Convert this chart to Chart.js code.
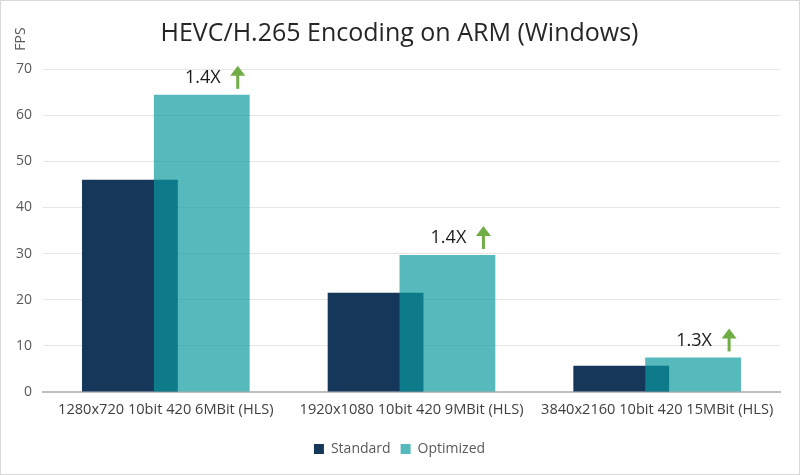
<!DOCTYPE html>
<html>
<head>
<meta charset="utf-8">
<script src="https://cdn.jsdelivr.net/npm/chart.js@4.4.1/dist/chart.umd.min.js"></script>
<style>
  html, body { margin: 0; padding: 0; background: #fff; }
  #wrap { position: relative; width: 800px; height: 475px; box-sizing: border-box; border: 1px solid #d9d9d9; }
</style>
</head>
<body>
<div id="wrap"><canvas id="chart" width="798" height="473"></canvas></div>
<script>
// ── data ──────────────────────────────────────────────────────────────────
const categories = [
  '1280x720 10bit 420 6MBit (HLS)',
  '1920x1080 10bit 420 9MBit (HLS)',
  '3840x2160 10bit 420 15MBit (HLS)',
];
const standardFps  = [46, 21.5, 5.7];
const optimizedFps = [64.4, 29.7, 7.5];
const speedups     = ['1.4X', '1.4X', '1.3X'];
const yTicks       = [0, 10, 20, 30, 40, 50, 60, 70];

const FONT = "'Open Sans', 'Noto Sans', sans-serif";
const C_STD = '#14375a';
const C_OPT = 'rgba(10,153,158,0.69)';
const C_ARROW = '#70ad47';

// Optimized sits in front of Standard (Chart.js draws first dataset on top,
// so skip it in the normal pass and draw it afterwards).
const frontPlugin = {
  id: 'optimizedInFront',
  beforeDatasetDraw(chart, args) {
    if (args.index === 1) return false;
  },
  afterDatasetsDraw(chart) {
    const meta = chart.getDatasetMeta(1);
    if (meta.visible) meta.controller.draw();
  },
};

// speedup labels + green arrows above the optimized bars, and the FPS label
const notesPlugin = {
  id: 'notes',
  afterDraw(chart) {
    const { ctx } = chart;
    const meta = chart.getDatasetMeta(1);
    ctx.save();
    meta.data.forEach((bar, i) => {
      const ty = bar.y - 17;
      ctx.fillStyle = '#1a1a1a';
      ctx.font = `18px ${FONT}`;
      ctx.textAlign = 'center';
      ctx.textBaseline = 'middle';
      ctx.fillText(speedups[i], bar.x + 1, ty);

      const ax = bar.x + 36;
      const top = ty - 12, bottom = ty + 11;
      ctx.fillStyle = C_ARROW;
      ctx.fillRect(ax - 1.5, top + 8, 3, bottom - top - 8);
      ctx.beginPath();
      ctx.moveTo(ax, top);
      ctx.lineTo(ax + 7.5, top + 10);
      ctx.lineTo(ax - 7.5, top + 10);
      ctx.closePath();
      ctx.fill();
    });

    ctx.translate(20, 38);
    ctx.rotate(-Math.PI / 2);
    ctx.fillStyle = '#595959';
    ctx.font = `14px ${FONT}`;
    ctx.textAlign = 'center';
    ctx.textBaseline = 'middle';
    ctx.fillText('FPS', 0, 0);
    ctx.restore();
  },
};

new Chart(document.getElementById('chart'), {
  type: 'bar',
  data: {
    labels: categories,
    datasets: [
      { label: 'Standard',  data: standardFps,  backgroundColor: C_STD },
      { label: 'Optimized', data: optimizedFps, backgroundColor: C_OPT },
    ],
  },
  options: {
    responsive: false,
    animation: false,
    categoryPercentage: 0.585,
    barPercentage: 1.333,
    layout: { padding: { left: 0, right: 1, top: 0, bottom: 8 } },
    plugins: {
      title: {
        display: true,
        text: 'HEVC/H.265 Encoding on ARM (Windows)',
        color: '#262626',
        font: { family: FONT, size: 25, weight: 'normal' },
        padding: { top: 18, bottom: 20 },
      },
      legend: {
        position: 'bottom',
        labels: {
          color: '#595959',
          font: { family: FONT, size: 14 },
          boxWidth: 10,
          boxHeight: 10,
          padding: 10,
        },
      },
      tooltip: { enabled: false },
    },
    scales: {
      x: {
        grid: { display: false, drawTicks: false },
        border: { display: true, color: '#bfbfbf', width: 2 },
        ticks: { color: '#404040', font: { family: FONT, size: 14.6 }, padding: 9, maxRotation: 0 },
        afterFit: (s) => { s.height = 40; },
      },
      y: {
        min: 0,
        max: 70,
        afterBuildTicks: (s) => { s.ticks = yTicks.map((v) => ({ value: v })); },
        grid: { color: '#e6e6e6', drawTicks: false },
        border: { display: false },
        ticks: { color: '#595959', font: { family: FONT, size: 14 }, padding: 11 },
        afterFit: (s) => { s.width = 42; },
      },
      // empty right-hand spacer so the plot ends short of the centred title/legend
      spacer: {
        type: 'linear',
        position: 'right',
        grid: { display: false, drawTicks: false },
        border: { display: false },
        ticks: { display: false },
        afterFit: (s) => { s.width = 18; },
      },
    },
  },
  plugins: [frontPlugin, notesPlugin],
});
</script>
</body>
</html>
